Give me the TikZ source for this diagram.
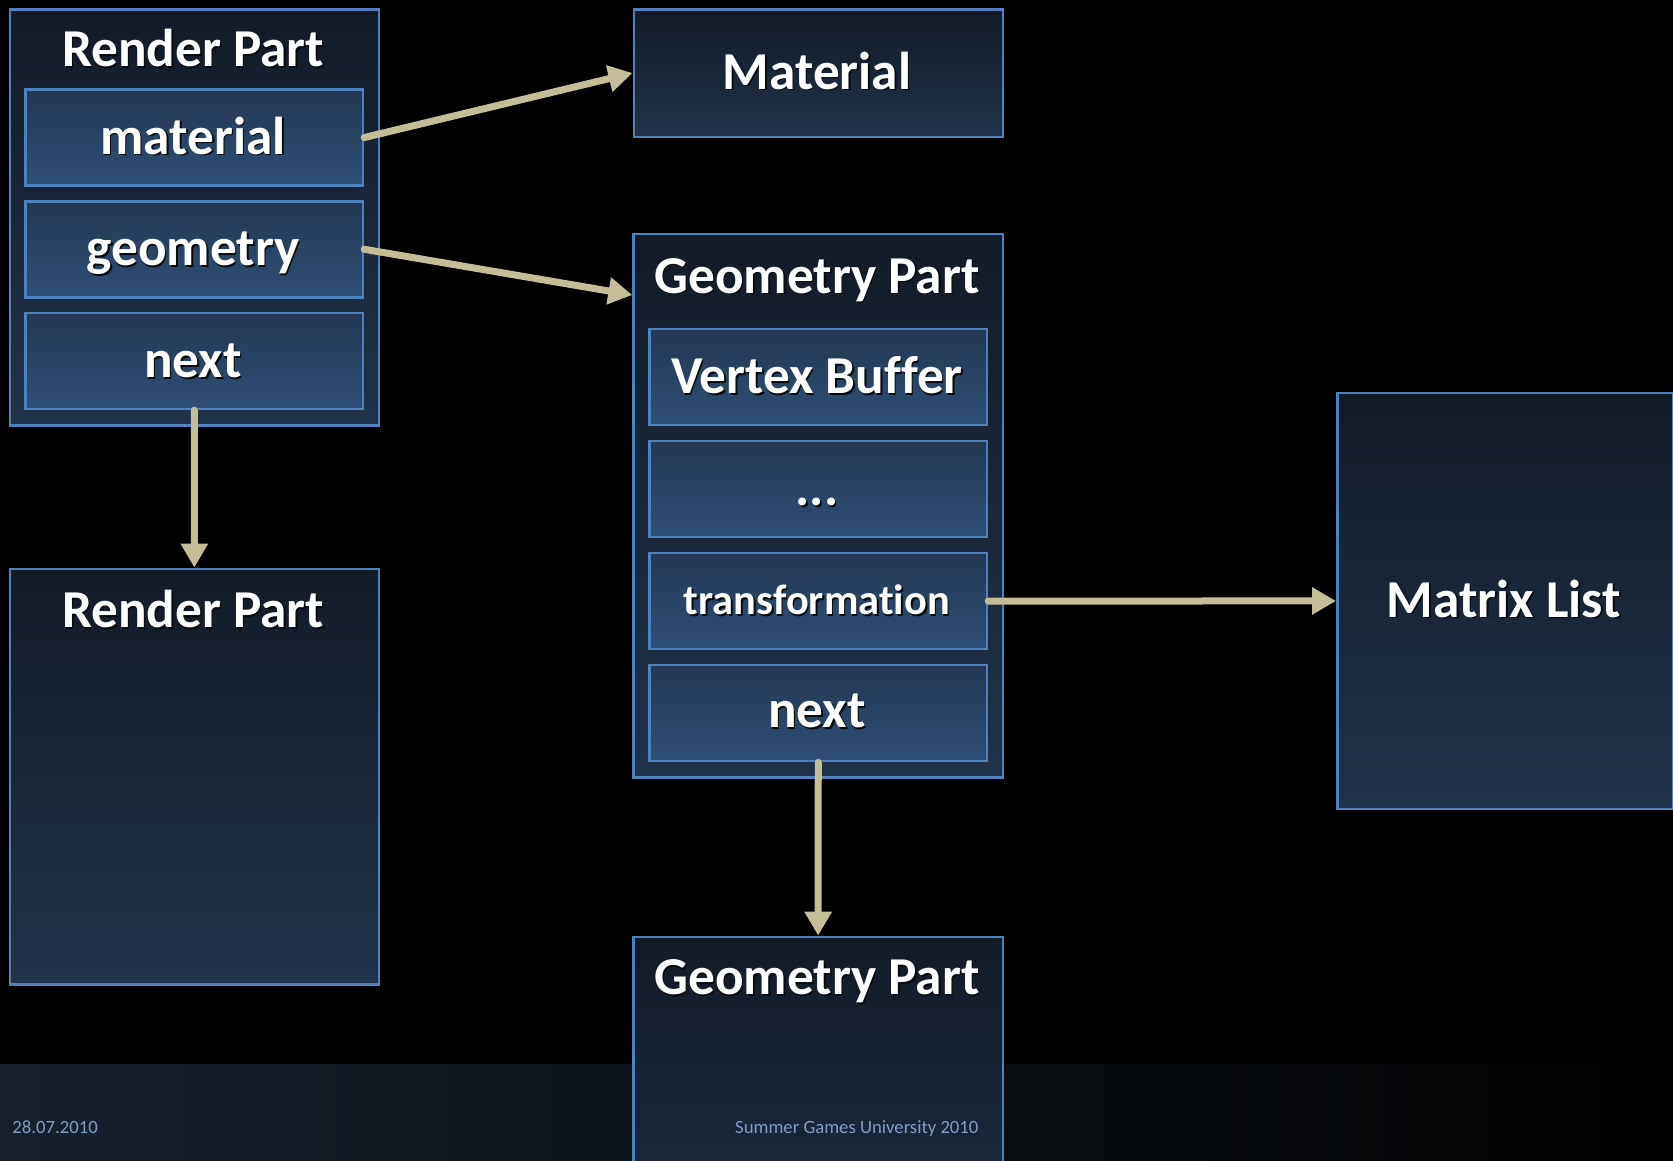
\documentclass[tikz,border=0pt]{standalone}
\usepackage{fontspec}
\setmainfont[Ligatures=NoCommon]{Carlito}
\usetikzlibrary{arrows.meta}

\definecolor{boxtop}{HTML}{131B27}
\definecolor{boxbot}{HTML}{203249}
\definecolor{intop}{HTML}{243852}
\definecolor{inbot}{HTML}{2F4F75}
\definecolor{edgecol}{HTML}{4F81BD}
\definecolor{linkcol}{HTML}{C4BD97}
\definecolor{bandleft}{HTML}{16202D}
\definecolor{bandmid}{HTML}{0B1017}
\definecolor{foottxt}{HTML}{809DC5}
\definecolor{txtshade}{HTML}{070B11}

% white label with a small dark drop shadow
\newcommand\shtxt[1]{\makebox[0pt][l]{\hspace*{1.6pt}\raisebox{-1.6pt}{\textcolor{txtshade}{#1}}}#1}

\begin{document}
\begin{tikzpicture}[x=1pt,y=-1pt,
  outerbox/.style={draw=edgecol, line width=2.5pt, top color=boxtop, bottom color=boxbot,
    inner sep=0pt, anchor=north west, minimum width=369.2pt, minimum height=415.7pt},
  innerbox/.style={draw=edgecol, line width=2.5pt, top color=intop, bottom color=inbot,
    inner sep=0pt, anchor=north west, minimum width=337.4pt, minimum height=96pt},
  title/.style={text=white, font=\bfseries\fontsize{53.3pt}{60pt}\selectfont, anchor=base, inner sep=0pt},
  smalltitle/.style={title, font=\bfseries\fontsize{42.5pt}{50pt}\selectfont},
  foot/.style={text=foottxt, font=\fontsize{18.7pt}{22pt}\selectfont, inner sep=0pt},
  link/.style={draw=linkcol, line width=7pt, line cap=round, -{Triangle[length=24pt,width=26pt]}}]

\useasboundingbox (0,0) rectangle (1673,1160);
\clip (0,0) rectangle (1673,1160);
\fill[black] (0,0) rectangle (1673,1160);

% footer band
\shade[left color=bandleft, middle color=bandmid, right color=black] (0,1064) rectangle (1673,1160);

% render part with its fields
\node[outerbox] (rp1) at (8.5,8.3) {};
\node[title] (rp1t) at (193.1,66.7) {\shtxt{Render Part}};
\node[innerbox] (rmat) at (24.3,88.3) {};
\node[title] at (193,154) {\shtxt{material}};
\node[innerbox] (rgeo) at (24.3,200) {};
\node[title] at (193,265.5) {\shtxt{geometry}};
\node[innerbox] (rnext) at (24.3,311.7) {};
\node[title] at (193,377.5) {\shtxt{next}};

% material
\node[outerbox, minimum height=127.5pt] (mat) at (632.5,8) {};
\node[title] at (817,89.3) {\shtxt{Material}};

% geometry part with its fields
\node[outerbox, minimum height=543.9pt] (gp1) at (632.3,232.5) {};
\node[title] at (817,293.2) {\shtxt{Geometry Part}};
\node[innerbox] (gvb) at (648.3,327.9) {};
\node[title] at (817,393.9) {\shtxt{Vertex Buffer}};
\node[innerbox] (gdots) at (648.3,439.6) {};
\node[title] at (817,505.7) {\shtxt{...}};
\node[innerbox] (gtrans) at (648.3,551.8) {};
\node[smalltitle] at (817,614.6) {\shtxt{transformation}};
\node[innerbox] (gnext) at (648.3,663.9) {};
\node[title] at (817,727.9) {\shtxt{next}};

% matrix list
\node[outerbox, minimum width=335.7pt, minimum height=416pt] (ml) at (1336,391.7) {};
\node[title] at (1504,617.3) {\shtxt{Matrix List}};

% following render part
\node[outerbox] (rp2) at (8.5,567.6) {};
\node[title] at (193.1,627.4) {\shtxt{Render Part}};

% following geometry part
\node[outerbox] (gp2) at (632.3,935.7) {};
\node[title] at (817,994.5) {\shtxt{Geometry Part}};

% footer texts
\node[foot, anchor=base west] (date) at (12.3,1133) {28.07.2010};
\node[foot, anchor=base east] (event) at (978.6,1133) {Summer Games University 2010};

% pointers
\coordinate (gpin) at ([yshift=-62.5pt]gp1.north west);
\draw[link] (rmat.east) -- (mat.west);
\draw[link] (rgeo.east) -- (gpin);
\draw[link] (rnext.south) -- (rp2.north);
\draw[link] (gtrans.east) -- (ml.west);
\draw[link] (gnext.south) -- (gp2.north);
\end{tikzpicture}
\end{document}
